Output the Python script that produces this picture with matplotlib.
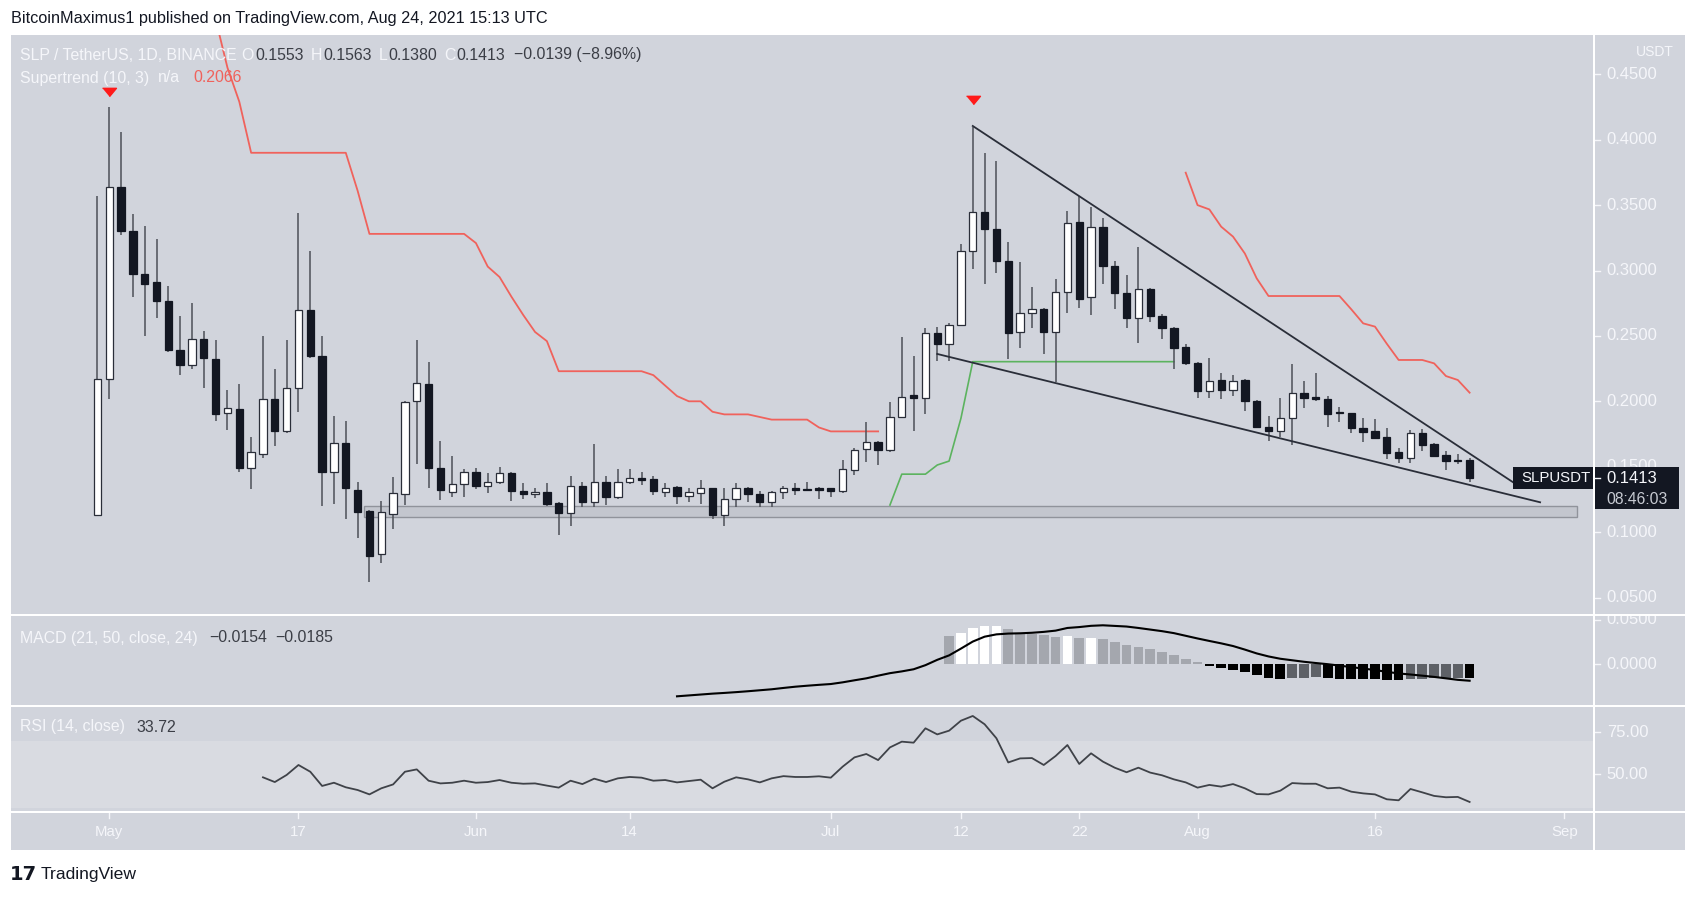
import numpy as np
import pandas as pd
import matplotlib
matplotlib.use('Agg')
import matplotlib.pyplot as plt
import matplotlib.dates as mdates
from matplotlib import font_manager
from matplotlib.patches import Rectangle
from matplotlib.transforms import blended_transform_factory as blend

# ---- daily candles SLP/USDT ----
dates = pd.date_range('2021-04-30', '2021-08-24', freq='D')

opens = [0.1131,
         # May
         0.2170, 0.3636, 0.3300, 0.2970, 0.2910, 0.2770, 0.2390, 0.2280, 0.2480, 0.2320,
         0.1910, 0.1940, 0.1490, 0.1600, 0.2020, 0.1770, 0.2100, 0.2700, 0.2350, 0.1460,
         0.1680, 0.1320, 0.1160, 0.0830, 0.1140, 0.1290, 0.2000, 0.2130, 0.1490, 0.1310, 0.1370,
         # Jun
         0.1460, 0.1352, 0.1386, 0.1455, 0.1317, 0.1290, 0.1310, 0.1220, 0.1143, 0.1350,
         0.1233, 0.1386, 0.1270, 0.1386, 0.1410, 0.1405, 0.1310, 0.1346, 0.1276, 0.1300,
         0.1334, 0.1130, 0.1250, 0.1334, 0.1290, 0.1233, 0.1310, 0.1340, 0.1329, 0.1334,
         # Jul
         0.1334, 0.1317, 0.1475, 0.1635, 0.1690, 0.1627, 0.1877, 0.2048, 0.2023, 0.2520,
         0.2435, 0.2583, 0.3150, 0.3450, 0.3317, 0.3075, 0.2527, 0.2673, 0.2703, 0.2527,
         0.2838, 0.3373, 0.2794, 0.3335, 0.3037, 0.2830, 0.2635, 0.2856, 0.2655, 0.2563, 0.2417,
         # Aug
         0.2295, 0.2078, 0.2163, 0.2087, 0.2163, 0.2004, 0.1800, 0.1775, 0.1870, 0.2061,
         0.2030, 0.2017, 0.1915, 0.1913, 0.1798, 0.1772, 0.1730, 0.1610, 0.1570, 0.1755,
         0.1673, 0.1590, 0.1550, 0.1553]
highs = [0.3570,
         0.4247, 0.4060, 0.3430, 0.3340, 0.3240, 0.2880, 0.2650, 0.2750, 0.2540, 0.2470,
         0.2090, 0.2130, 0.1730, 0.2500, 0.2250, 0.2470, 0.3440, 0.3150, 0.2500, 0.1890,
         0.1850, 0.1386, 0.1170, 0.1240, 0.1420, 0.2000, 0.2470, 0.2300, 0.1700, 0.1580, 0.1480,
         0.1490, 0.1454, 0.1495, 0.1460, 0.1378, 0.1334, 0.1378, 0.1230, 0.1430, 0.1386,
         0.1673, 0.1430, 0.1480, 0.1480, 0.1460, 0.1430, 0.1378, 0.1350, 0.1334, 0.1398,
         0.1340, 0.1334, 0.1372, 0.1346, 0.1317, 0.1317, 0.1350, 0.1372, 0.1386, 0.1346,
         0.1334, 0.1550, 0.1640, 0.1844, 0.1696, 0.1997, 0.2489, 0.2350, 0.2558, 0.2570,
         0.2600, 0.3200, 0.4100, 0.3896, 0.3840, 0.3220, 0.3067, 0.2876, 0.2710, 0.2935,
         0.3455, 0.3570, 0.3488, 0.3400, 0.3075, 0.2966, 0.3182, 0.2870, 0.2665, 0.2570, 0.2435,
         0.2303, 0.2328, 0.2214, 0.2201, 0.2170, 0.2010, 0.1887, 0.2023, 0.2283, 0.2155,
         0.2214, 0.2043, 0.1954, 0.1913, 0.1870, 0.1865, 0.1798, 0.1646, 0.1780, 0.1785,
         0.1684, 0.1620, 0.1597, 0.1563]
lows = [0.1131,
        0.2018, 0.3270, 0.2800, 0.2500, 0.2640, 0.2380, 0.2200, 0.2250, 0.2100, 0.1850,
        0.1780, 0.1460, 0.1330, 0.1570, 0.1660, 0.1760, 0.1915, 0.2330, 0.1200, 0.1215,
        0.1100, 0.0953, 0.0621, 0.0760, 0.1020, 0.1207, 0.1520, 0.1340, 0.1245, 0.1270, 0.1270,
        0.1330, 0.1300, 0.1368, 0.1240, 0.1250, 0.1257, 0.1200, 0.0978, 0.1050, 0.1194,
        0.1194, 0.1210, 0.1250, 0.1368, 0.1360, 0.1284, 0.1265, 0.1215, 0.1233, 0.1215,
        0.1098, 0.1050, 0.1194, 0.1227, 0.1194, 0.1194, 0.1250, 0.1284, 0.1317, 0.1250,
        0.1270, 0.1296, 0.1436, 0.1533, 0.1513, 0.1615, 0.1870, 0.1775, 0.1900, 0.2310,
        0.2310, 0.2580, 0.3010, 0.2900, 0.2978, 0.2320, 0.2405, 0.2558, 0.2359, 0.2150,
        0.2678, 0.2710, 0.2660, 0.2900, 0.2705, 0.2558, 0.2443, 0.2610, 0.2476, 0.2244, 0.2277,
        0.2023, 0.2023, 0.2015, 0.2043, 0.1926, 0.1793, 0.1700, 0.1724, 0.1666, 0.1951,
        0.2004, 0.1800, 0.1845, 0.1760, 0.1690, 0.1720, 0.1559, 0.1526, 0.1530, 0.1622,
        0.1577, 0.1475, 0.1518, 0.1380]
closes = [0.2170,
          0.3636, 0.3300, 0.2970, 0.2900, 0.2770, 0.2390, 0.2280, 0.2480, 0.2330, 0.1900,
          0.1950, 0.1490, 0.1610, 0.2020, 0.1770, 0.2100, 0.2700, 0.2350, 0.1457, 0.1680,
          0.1340, 0.1150, 0.0817, 0.1150, 0.1300, 0.1998, 0.2140, 0.1490, 0.1320, 0.1370, 0.1460,
          0.1350, 0.1386, 0.1450, 0.1317, 0.1290, 0.1310, 0.1215, 0.1143, 0.1350, 0.1233,
          0.1386, 0.1270, 0.1386, 0.1410, 0.1398, 0.1317, 0.1334, 0.1276, 0.1303, 0.1334,
          0.1130, 0.1250, 0.1334, 0.1290, 0.1233, 0.1310, 0.1340, 0.1320, 0.1320, 0.1320,
          0.1317, 0.1480, 0.1627, 0.1690, 0.1627, 0.1877, 0.2035, 0.2023, 0.2520, 0.2435,
          0.2583, 0.3150, 0.3450, 0.3317, 0.3075, 0.2520, 0.2678, 0.2703, 0.2527, 0.2833,
          0.3366, 0.2780, 0.3335, 0.3037, 0.2830, 0.2635, 0.2856, 0.2652, 0.2563, 0.2410, 0.2295,
          0.2078, 0.2158, 0.2087, 0.2158, 0.2002, 0.1800, 0.1775, 0.1870, 0.2060, 0.2028,
          0.2015, 0.1900, 0.1908, 0.1793, 0.1768, 0.1722, 0.1607, 0.1569, 0.1755, 0.1666,
          0.1582, 0.1546, 0.1546, 0.1413]

# Supertrend (10, 3)
st_red1_start = '2021-05-09'
st_red1 = [0.520, 0.492, 0.455, 0.429, 0.390, 0.390, 0.390, 0.390, 0.390, 0.390,
           0.390, 0.390, 0.390, 0.361, 0.328, 0.328, 0.328, 0.328, 0.328, 0.328,
           0.328, 0.328, 0.328, 0.321, 0.303, 0.295, 0.280, 0.266, 0.253, 0.246,
           0.223, 0.223, 0.223, 0.223, 0.223, 0.223, 0.223, 0.223, 0.220, 0.212,
           0.204, 0.200, 0.200, 0.192, 0.190, 0.190, 0.190, 0.188, 0.186, 0.186,
           0.186, 0.186, 0.180, 0.177, 0.177, 0.177, 0.177, 0.177]
st_green_start = '2021-07-06'
st_green = [0.1207, 0.1443, 0.1443, 0.1443, 0.1513, 0.1543, 0.1870, 0.2303, 0.2303, 0.2303,
            0.2303, 0.2303, 0.2303, 0.2303, 0.2303, 0.2303, 0.2303, 0.2303, 0.2303, 0.2303,
            0.2303, 0.2303, 0.2303, 0.2303, 0.2303]
st_red2_start = '2021-07-31'
st_red2 = [0.3748, 0.3500, 0.3467, 0.3335, 0.3259, 0.3130, 0.2940, 0.2805, 0.2805, 0.2805,
           0.2805, 0.2805, 0.2805, 0.2805, 0.2703, 0.2596, 0.2571, 0.2440, 0.2316, 0.2316,
           0.2316, 0.2290, 0.2193, 0.2163, 0.2066]

sell_dates = ['2021-05-01', '2021-07-13']
sell_marks = [0.4367, 0.4305]

# drawn falling wedge and support zone
wedge_upper_x = ['2021-07-13', '2021-08-27 17:00']
wedge_upper_y = [0.4105, 0.1379]
wedge_lower_x = ['2021-07-10', '2021-08-29 23:00']
wedge_lower_y = [0.2362, 0.1228]
support_x = ['2021-05-22 12:00', '2021-09-02 02:00']
support_y = [0.1118, 0.1202]

# MACD (21, 50, close, 24)
macd_start = '2021-06-18'
macd_line = [-0.0360, -0.0350, -0.0340, -0.0330, -0.0322, -0.0313, -0.0303, -0.0292, -0.0281, -0.0266,
             -0.0252, -0.0241, -0.0231, -0.0222, -0.0203, -0.0180, -0.0158, -0.0128, -0.0100, -0.0080,
             -0.0056, -0.0010, 0.0050, 0.0100, 0.0176, 0.0255, 0.0310, 0.0336, 0.0345, 0.0348,
             0.0354, 0.0364, 0.0378, 0.0408, 0.0418, 0.0432, 0.0438, 0.0431, 0.0424, 0.0408,
             0.0390, 0.0372, 0.0350, 0.0320, 0.0290, 0.0262, 0.0235, 0.0205, 0.0165, 0.0122,
             0.0088, 0.0062, 0.0045, 0.0028, 0.0014, 0.0001, -0.0015, -0.0032, -0.0048, -0.0065,
             -0.0085, -0.0103, -0.0115, -0.0128, -0.0142, -0.0158, -0.0175, -0.0185]
hist_start = '2021-07-11'
macd_hist = [0.0318, 0.0356, 0.0408, 0.0431, 0.0433, 0.0393, 0.0356, 0.0345, 0.0326, 0.0307,
             0.0318, 0.0296, 0.0300, 0.0281, 0.0251, 0.0221, 0.0195, 0.0169, 0.0139, 0.0101,
             0.0064, 0.0026, -0.0022, -0.0041, -0.0067, -0.0086, -0.0124, -0.0154, -0.0161, -0.0156,
             -0.0152, -0.0142, -0.0154, -0.0161, -0.0163, -0.0166, -0.0169, -0.0172, -0.0174, -0.0164,
             -0.0160, -0.0156, -0.0153, -0.0150, -0.0154]

# RSI (14, close)
rsi_start = '2021-05-14'
rsi = [48.3, 45.5, 49.7, 55.6, 51.6, 43.2, 45.1, 42.4, 40.8, 38.2,
       41.8, 44.1, 51.6, 53.0, 46.3, 44.7, 45.1, 46.3, 45.1, 45.5,
       46.7, 45.1, 44.5, 44.7, 43.4, 42.2, 46.3, 44.3, 47.5, 45.5,
       47.7, 48.5, 48.1, 46.3, 46.7, 45.3, 46.1, 46.9, 41.8, 45.7,
       48.3, 47.1, 45.3, 47.7, 49.0, 48.5, 48.5, 48.9, 48.1, 54.6,
       60.1, 62.1, 58.5, 66.0, 69.4, 68.8, 77.3, 73.7, 75.9, 81.8,
       84.6, 79.7, 71.4, 57.1, 59.5, 59.7, 55.6, 60.9, 67.4, 56.2,
       62.5, 57.6, 54.0, 51.3, 54.0, 51.1, 49.5, 47.1, 45.3, 42.2,
       43.8, 42.8, 44.3, 41.8, 38.4, 38.2, 40.4, 44.9, 44.5, 44.5,
       41.8, 42.2, 39.8, 38.8, 38.2, 35.3, 34.7, 41.4, 39.4, 37.3,
       36.5, 36.7, 33.72]

price_ticks = [0.05, 0.10, 0.15, 0.20, 0.25, 0.30, 0.35, 0.40, 0.45]
macd_ticks = [0.0, 0.05]
rsi_ticks = [50, 75]
time_ticks = ['2021-05-01', '2021-05-17', '2021-06-01', '2021-06-14', '2021-07-01',
              '2021-07-12', '2021-07-22', '2021-08-01', '2021-08-16', '2021-09-01']
time_labels = ['May', '17', 'Jun', '14', 'Jul', '12', '22', 'Aug', '16', 'Sep']
last_price = 0.1413

# ---- style ----
BG = '#d1d4dc'
LIGHT = '#f5f6fa'
DARK = '#3b3e46'
names = {f.name for f in font_manager.fontManager.ttflist}
UI = 'Liberation Sans' if 'Liberation Sans' in names else 'DejaVu Sans'

W, H = 1696, 898
fig = plt.figure(figsize=(W / 100, H / 100), dpi=100)
fig.patch.set_facecolor('white')


def box(x0, y0, x1, y1):
    return [x0 / W, 1 - y1 / H, (x1 - x0) / W, (y1 - y0) / H]


def dnum(s):
    return mdates.date2num(pd.Timestamp(s).to_pydatetime())


def drange(start, n):
    return mdates.date2num(pd.date_range(start, periods=n, freq='D').to_pydatetime())


ax = fig.add_axes(box(11, 35, 1593, 613.5))
ax_macd = fig.add_axes(box(11, 615.5, 1593, 704.5), sharex=ax)
ax_rsi = fig.add_axes(box(11, 706.5, 1593, 810.5), sharex=ax)
ax_time = fig.add_axes(box(11, 812.5, 1593, 850), sharex=ax)
sc = fig.add_axes(box(1595, 35, 1685, 613.5), sharey=ax)
sc_macd = fig.add_axes(box(1595, 615.5, 1685, 704.5), sharey=ax_macd)
sc_rsi = fig.add_axes(box(1595, 706.5, 1685, 810.5), sharey=ax_rsi)
corner = fig.add_axes(box(1595, 812.5, 1685, 850))
for a in (ax, ax_macd, ax_rsi, ax_time, sc, sc_macd, sc_rsi, corner):
    a.set_facecolor(BG)
    for s in a.spines.values():
        s.set_visible(False)
    a.tick_params(left=False, bottom=False, labelleft=False, labelbottom=False)
    a.set_autoscale_on(False)

# ---- price pane ----
xd = mdates.date2num(dates.to_pydatetime())
o, h, l, c = (np.array(v) for v in (opens, highs, lows, closes))
up = c >= o
bot = np.minimum(o, c)
hgt = np.maximum(np.abs(c - o), 0.0006)

ax.add_patch(Rectangle((dnum(support_x[0]), support_y[0]), dnum(support_x[1]) - dnum(support_x[0]),
                       support_y[1] - support_y[0], facecolor='#c3c6ce', edgecolor='#90939b',
                       linewidth=1, zorder=1.5))
ax.vlines(xd, l, h, colors='#4d5058', linewidth=1.1, zorder=3)
ax.bar(xd[up], hgt[up], width=0.62, bottom=bot[up], color='white', edgecolor='#2a2e39',
       linewidth=0.9, zorder=4)
ax.bar(xd[~up], hgt[~up], width=0.62, bottom=bot[~up], color='#131722', edgecolor='#131722',
       linewidth=0.9, zorder=4)

ax.plot(drange(st_red1_start, len(st_red1)), st_red1, color='#f0625c', lw=1.3, zorder=2)
ax.plot(drange(st_green_start, len(st_green)), st_green, color='#5cb35f', lw=1.2, zorder=2)
ax.plot(drange(st_red2_start, len(st_red2)), st_red2, color='#f0625c', lw=1.3, zorder=2)

tri = [(-1, 0.6), (1, 0.6), (0, -0.6)]
ax.plot([dnum(d) for d in sell_dates], sell_marks, linestyle='none', marker=tri, ms=10,
        color='#ff1a1a', zorder=6)

ax.plot([dnum(d) for d in wedge_upper_x], wedge_upper_y, color='#2a2e39', lw=1.3, zorder=5)
ax.plot([dnum(d) for d in wedge_lower_x], wedge_lower_y, color='#2a2e39', lw=1.3, zorder=5)

x0 = dnum('2021-05-01')
ax.set_xlim(x0 - 8.30, x0 + 125.43)
ax.set_ylim(0.03777, 0.48005)

# ---- MACD pane ----
hist_colors = []
for i, v in enumerate(macd_hist):
    prev = macd_hist[i - 1] if i > 0 else v
    if v >= 0:
        hist_colors.append('#ffffff' if v > prev else '#a4a7ae')
    else:
        hist_colors.append('#000000' if v <= prev else '#5e6167')
ax_macd.bar(drange(hist_start, len(macd_hist)), macd_hist, width=0.82, color=hist_colors, zorder=2)
ax_macd.plot(drange(macd_start, len(macd_line)), macd_line, color='#000000', lw=1.5, zorder=3)
ax_macd.set_ylim(-0.0452, 0.0548)

# ---- RSI pane ----
ax_rsi.axhspan(30, 70, color='#d9dbe1', zorder=0, lw=0)
ax_rsi.plot(drange(rsi_start, len(rsi)), rsi, color='#3f4248', lw=1.3, zorder=2)
ax_rsi.set_ylim(28.67, 90.2)

# ---- scales ----
AXFS = 12


def scale_labels(axis, ticks, fmt):
    tr = blend(axis.transAxes, axis.transData)
    for v in ticks:
        axis.text(0.13, v, fmt.format(v), transform=tr, color=LIGHT, fontsize=AXFS, family=UI,
                  va='center', ha='left', clip_on=True, zorder=2)
        axis.plot([0, 0.055], [v, v], transform=tr, color=LIGHT, lw=1, clip_on=True, zorder=2)


scale_labels(sc, price_ticks, '{:.4f}')
scale_labels(sc_macd, macd_ticks, '{:.4f}')
scale_labels(sc_rsi, rsi_ticks, '{:.2f}')
fig.text(1674 / W, 1 - 52 / H, 'USDT', color=LIGHT, fontsize=10, family=UI, ha='right', va='center')

# last price label
half = 0.0082
ax.add_patch(Rectangle((0.9496, last_price - half), 0.06, 2 * half,
                       transform=blend(ax.transAxes, ax.transData), facecolor='#131722',
                       edgecolor='none', zorder=7, clip_on=True))
ax.text(0.9545, last_price, 'SLPUSDT', transform=blend(ax.transAxes, ax.transData), color=LIGHT,
        fontsize=10.8, family=UI, va='center', ha='left', zorder=8)
sc_tr = blend(sc.transAxes, sc.transData)
sc.add_patch(Rectangle((0, 0.11743), 0.933, last_price + half - 0.11743, transform=sc_tr,
                       facecolor='#131722', edgecolor='none', zorder=5))
sc.plot([0, 0.055], [last_price, last_price], transform=sc_tr, color=LIGHT, lw=1, zorder=6)
sc.text(0.13, last_price, f'{last_price:.4f}', transform=sc_tr, color=LIGHT, fontsize=AXFS,
        family=UI, va='center', ha='left', zorder=6)
sc.text(0.13, 0.1253, '08:46:03', transform=sc_tr, color='#c8cbd3', fontsize=11.3,
        family=UI, va='center', ha='left', zorder=6)

# ---- time axis ----
tt = blend(ax_time.transData, ax_time.transAxes)
for d, lab in zip(time_ticks, time_labels):
    ax_time.text(dnum(d), 0.47, lab, transform=tt, color=LIGHT, fontsize=10.8, family=UI,
                 ha='center', va='center')
    ax_time.plot([dnum(d), dnum(d)], [0.86, 1.0], transform=tt, color=LIGHT, lw=1)

# ---- legends and header ----
renderer = fig.canvas.get_renderer()
LEG = 11.4


def text_runs(x, y, parts, size):
    for s, col, gap in parts:
        t = fig.text(x / W, 1 - y / H, s, color=col, fontsize=size, family=UI, va='center', ha='left')
        x += t.get_window_extent(renderer).width + gap


text_runs(20, 55, [('SLP / TetherUS, 1D, BINANCE', LIGHT, 5), ('O', LIGHT, 1), ('0.1553', DARK, 7),
                   ('H', LIGHT, 1), ('0.1563', DARK, 7), ('L', LIGHT, 1), ('0.1380', DARK, 7),
                   ('C', LIGHT, 1), ('0.1413', DARK, 9), ('\u22120.0139 (\u22128.96%)', DARK, 0)], LEG)
text_runs(20, 78, [('Supertrend (10, 3)', LIGHT, 9), ('n/a', LIGHT, 13), ('0.2066', '#f0625c', 0)], LEG)
text_runs(20, 638, [('MACD (21, 50, close, 24)', LIGHT, 11), ('\u22120.0154', DARK, 9),
                    ('\u22120.0185', DARK, 0)], LEG)
text_runs(20, 727, [('RSI (14, close)', LIGHT, 11), ('33.72', DARK, 0)], LEG)

fig.text(11 / W, 1 - 18 / H, 'BitcoinMaximus1 published on TradingView.com, Aug 24, 2021 15:13 UTC',
         color='#131722', fontsize=11.7, family=UI, va='center', ha='left')
fig.text(10 / W, 1 - 874 / H, '17', color='#131722', fontsize=14, family='DejaVu Sans',
         fontweight='heavy', va='center', ha='left')
fig.text(41 / W, 1 - 874 / H, 'TradingView', color='#131722', fontsize=12.6, family=UI,
         va='center', ha='left')

fig.savefig('out.png', dpi=100, facecolor='white')
